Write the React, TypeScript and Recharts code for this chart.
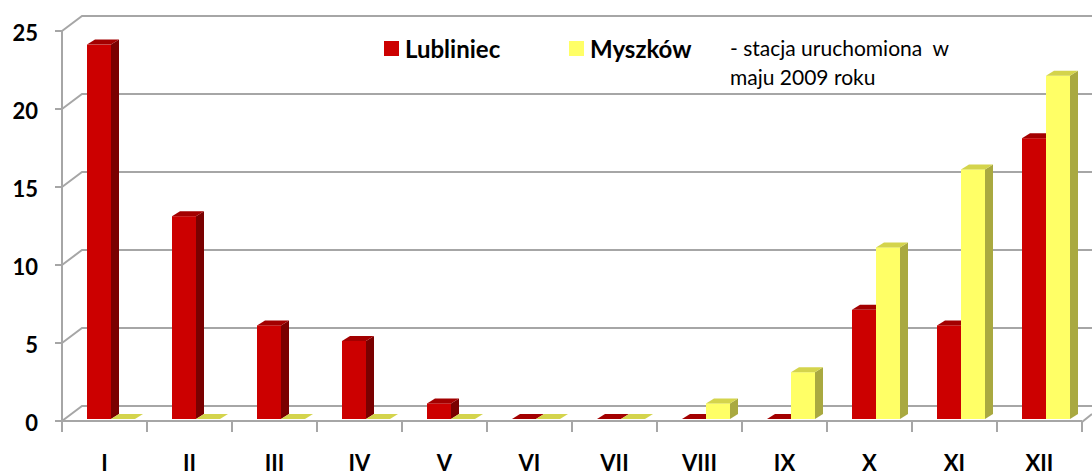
import { BarChart, Bar, XAxis, YAxis, CartesianGrid } from "recharts";

const months = ["I", "II", "III", "IV", "V", "VI", "VII", "VIII", "IX", "X", "XI", "XII"];
const lubliniec = [24, 13, 6, 5, 1, 0, 0, 0, 0, 7, 6, 18];
const myszkow = [0, 0, 0, 0, 0, 0, 0, 1, 3, 11, 16, 22];
const yTicks = [0, 5, 10, 15, 20, 25];

const data = months.map((m, i) => ({ month: m, lubliniec: lubliniec[i], myszkow: myszkow[i] }));

const W = 1092;
const H = 475;
const LEFT = 62;
const RIGHT = 10;
const XH = 54;
const BAND = (W - LEFT - RIGHT) / months.length;
const GRID = "#a6a6a6";
const FONT = "Lato, 'Open Sans', sans-serif";

// 3d look: depth offset of the bar top/side
const DX = 8;
const DY = 5;

const RED = { front: "#cc0000", side: "#7a0000", top: "#a30000" };
const YELLOW = { front: "#ffff66", side: "#a9a940", top: "#d4d44c" };

function make3DBar(c: { front: string; side: string; top: string }) {
  return (props: any) => {
    const { x, y, width, height } = props;
    const X = x + 6;
    const Y = y - 2;
    const h = Math.max(0, height);
    return (
      <g>
        {h > 0.5 && <rect x={X} y={Y} width={width} height={h} fill={c.front} />}
        {h > 0.5 && (
          <polygon
            points={`${X + width},${Y} ${X + width + DX},${Y - DY} ${X + width + DX},${Y + h - DY} ${X + width},${Y + h}`}
            fill={c.side}
          />
        )}
        <polygon
          points={`${X},${Y} ${X + DX},${Y - DY} ${X + width + DX},${Y - DY} ${X + width},${Y}`}
          fill={c.top}
        />
      </g>
    );
  };
}

const gridLine = (props: any) => {
  const { x1, y1, x2 } = props;
  const isFloor = Math.abs(y1 - (H - XH)) < 1;
  return (
    <g key={`g-${y1}`}>
      <polyline
        points={`${x1},${y1} ${x1 + 20},${y1 - 15} ${W},${y1 - 15}`}
        fill="none"
        stroke={GRID}
        strokeWidth={2}
      />
      {isFloor && (
        <polyline points={`${x2},${y1 + 1} ${x2 + 10},${y1 - 7}`} fill="none" stroke={GRID} strokeWidth={2} />
      )}
    </g>
  );
};

const XTick = (props: any) => {
  const { x, payload, index } = props;
  const base = H - XH;
  return (
    <g>
      <line x1={x - BAND / 2} y1={base} x2={x - BAND / 2} y2={base + 11} stroke={GRID} strokeWidth={2} />
      {index === months.length - 1 && (
        <line x1={x + BAND / 2} y1={base} x2={x + BAND / 2} y2={base + 11} stroke={GRID} strokeWidth={2} />
      )}
      <text x={x} y={471} textAnchor="middle" fontFamily={FONT} fontWeight={700} fontSize={22} fill="#000">
        {payload.value}
      </text>
    </g>
  );
};

const YTick = (props: any) => {
  const { y, payload } = props;
  return (
    <text x={38} y={y + 10} textAnchor="end" fontFamily={FONT} fontWeight={700} fontSize={22} fill="#000">
      {payload.value}
    </text>
  );
};

const legendItems = [
  { name: "Lubliniec", color: RED.front },
  { name: "Myszków", color: YELLOW.front },
];

export default function App() {
  return (
    <div style={{ position: "absolute", left: 0, top: 0, width: W, height: H, background: "#fff" }}>
      <BarChart
        width={W}
        height={H}
        data={data}
        margin={{ top: 31, right: RIGHT, left: 0, bottom: 0 }}
        barGap={0}
        barSize={24}
      >
        <CartesianGrid horizontal={gridLine} vertical={false} />
        <XAxis
          dataKey="month"
          height={XH}
          tick={<XTick />}
          tickLine={false}
          axisLine={{ stroke: GRID, strokeWidth: 2 }}
          interval={0}
        />
        <YAxis
          width={LEFT}
          domain={[0, 25]}
          ticks={yTicks}
          tick={<YTick />}
          tickSize={7}
          tickLine={{ stroke: GRID, strokeWidth: 2 }}
          axisLine={{ stroke: GRID, strokeWidth: 2 }}
        />
        <Bar dataKey="lubliniec" name="Lubliniec" fill={RED.front} shape={make3DBar(RED)} isAnimationActive={false} />
        <Bar dataKey="myszkow" name="Myszków" fill={YELLOW.front} shape={make3DBar(YELLOW)} isAnimationActive={false} />
      </BarChart>
      <div
        style={{
          position: "absolute",
          left: 384,
          top: 34,
          display: "flex",
          fontFamily: FONT,
          fontWeight: 700,
          fontSize: 24,
          color: "#000",
        }}
      >
        {legendItems.map((it) => (
          <div key={it.name} style={{ display: "flex", alignItems: "center", width: 185 }}>
            <span style={{ display: "inline-block", width: 15, height: 15, background: it.color, marginRight: 6 }} />
            <span>{it.name}</span>
          </div>
        ))}
      </div>
      <div
        style={{
          position: "absolute",
          left: 730,
          top: 33,
          fontFamily: FONT,
          fontSize: 21,
          lineHeight: "29px",
          color: "#000",
          whiteSpace: "pre",
        }}
      >
        {"- stacja uruchomiona  w\nmaju 2009 roku"}
      </div>
    </div>
  );
}
